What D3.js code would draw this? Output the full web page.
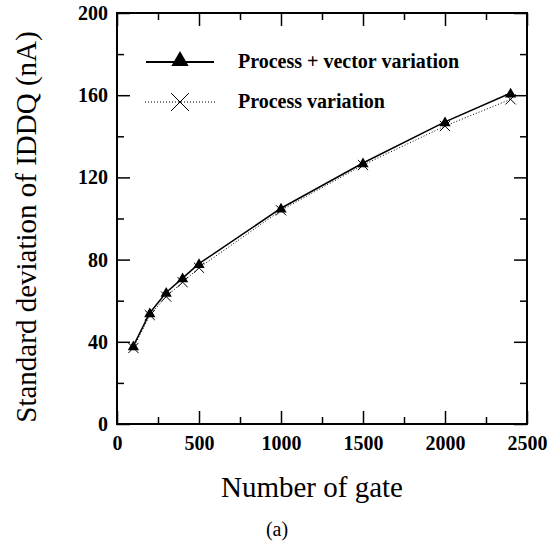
<!DOCTYPE html>
<head>
<meta charset="utf-8">
<style>
body { margin: 0; background: white; }
text { font-family: "Liberation Serif", "Times New Roman", serif; fill: black; }
.tick text { font-weight: bold; font-size: 20px; }
</style>
</head>
<body>
<div id="mainDiv"></div>
<script src="https://d3js.org/d3.v7.min.js"></script>
<script>

var width = 560;
var height = 545;

// data
var gates = [100, 200, 300, 400, 500, 1000, 1500, 2000, 2400];
var procVector = [38, 54, 64, 71, 78, 105, 127, 147, 161];
var procOnly = [37, 53, 62, 69, 76, 104, 126, 145, 158];
var xTicks = [0, 500, 1000, 1500, 2000, 2500];
var yTicks = [0, 40, 80, 120, 160, 200];

// plot box (note: "top" is reserved on window)
var pLeft = 117, pRight = 527, pTop = 13, pBottom = 424;

var x = d3.scaleLinear().domain([0, 2500]).range([pLeft, pRight]);
var y = d3.scaleLinear().domain([0, 200]).range([pBottom, pTop]);

var svg = d3.select("#mainDiv").append("svg")
    .attr("width", width)
    .attr("height", height);

// minor ticks, inward on all four sides
var xMinor = d3.range(250, 2500, 500);
var yMinor = d3.range(20, 200, 40);

function addAxis(axis, tx, ty, labels) {
  var g = svg.append("g")
      .attr("transform", "translate(" + tx + "," + ty + ")")
      .call(axis.tickFormat(d3.format("d")));
  g.select(".domain").remove();
  g.selectAll("line").attr("stroke", "black").attr("stroke-width", 1.5);
  if (!labels) g.selectAll("text").remove();
  return g;
}

// major ticks
addAxis(d3.axisBottom(x).tickValues(xTicks).tickSize(-13).tickPadding(12), 0, pBottom, true);
addAxis(d3.axisTop(x).tickValues(xTicks).tickSize(-13), 0, pTop, false);
addAxis(d3.axisLeft(y).tickValues(yTicks).tickSize(-13).tickPadding(9), pLeft, 0, true);
addAxis(d3.axisRight(y).tickValues(yTicks).tickSize(-13), pRight, 0, false);
// minor ticks
addAxis(d3.axisBottom(x).tickValues(xMinor).tickSize(-7), 0, pBottom, false);
addAxis(d3.axisTop(x).tickValues(xMinor).tickSize(-7), 0, pTop, false);
addAxis(d3.axisLeft(y).tickValues(yMinor).tickSize(-7), pLeft, 0, false);
addAxis(d3.axisRight(y).tickValues(yMinor).tickSize(-7), pRight, 0, false);

svg.append("rect")
    .attr("x", pLeft).attr("y", pTop)
    .attr("width", pRight - pLeft).attr("height", pBottom - pTop)
    .attr("fill", "none").attr("stroke", "black").attr("stroke-width", 2);

var lineProc = d3.line()
    .x(function(d, i) { return x(gates[i]); })
    .y(function(d) { return y(d); });

svg.append("path")
    .datum(procOnly)
    .attr("d", lineProc)
    .attr("fill", "none")
    .attr("stroke", "black")
    .attr("stroke-width", 1)
    .attr("stroke-dasharray", "1,2");

svg.append("path")
    .datum(procVector)
    .attr("d", lineProc)
    .attr("fill", "none")
    .attr("stroke", "black")
    .attr("stroke-width", 1.5);

var cross = d3.symbol().type(d3.symbolX);
var tri = d3.symbol().type(d3.symbolTriangle);

svg.selectAll(".cross")
    .data(procOnly)
    .enter().append("path")
    .attr("class", "cross")
    .attr("d", cross.size(70))
    .attr("transform", function(d, i) { return "translate(" + x(gates[i]) + "," + y(d) + ")"; })
    .attr("fill", "none")
    .attr("stroke", "black")
    .attr("stroke-width", 1);

svg.selectAll(".tri")
    .data(procVector)
    .enter().append("path")
    .attr("class", "tri")
    .attr("d", tri.size(55))
    .attr("transform", function(d, i) { return "translate(" + x(gates[i]) + "," + (y(d) + 1) + ")"; })
    .attr("fill", "black");

// legend
var legend = svg.append("g");
legend.append("line")
    .attr("x1", 146).attr("x2", 214).attr("y1", 62).attr("y2", 62)
    .attr("stroke", "black").attr("stroke-width", 2);
legend.append("path")
    .attr("d", d3.symbol().type(d3.symbolTriangle).size(130))
    .attr("transform", "translate(180,61)")
    .attr("fill", "black");
legend.append("text")
    .attr("x", 238).attr("y", 68)
    .style("font-size", "20px").style("font-weight", "bold")
    .text("Process + vector variation");

legend.append("line")
    .attr("x1", 145).attr("x2", 216).attr("y1", 102).attr("y2", 102)
    .attr("stroke", "black").attr("stroke-width", 1)
    .attr("stroke-dasharray", "1,2");
legend.append("path")
    .attr("d", d3.symbol().type(d3.symbolX).size(210))
    .attr("transform", "translate(180,102)")
    .attr("fill", "none").attr("stroke", "black").attr("stroke-width", 1);
legend.append("text")
    .attr("x", 238).attr("y", 108)
    .style("font-size", "20px").style("font-weight", "bold")
    .text("Process variation");

// axis titles
svg.append("text")
    .attr("transform", "translate(36,227) rotate(-90)")
    .attr("text-anchor", "middle")
    .style("font-size", "29px")
    .text("Standard deviation of IDDQ (nA)");

svg.append("text")
    .attr("x", 312).attr("y", 497)
    .attr("text-anchor", "middle")
    .style("font-size", "29px")
    .text("Number of gate");

svg.append("text")
    .attr("x", 277).attr("y", 536)
    .attr("text-anchor", "middle")
    .style("font-size", "20px")
    .text("(a)");

</script>
</body>
</html>
